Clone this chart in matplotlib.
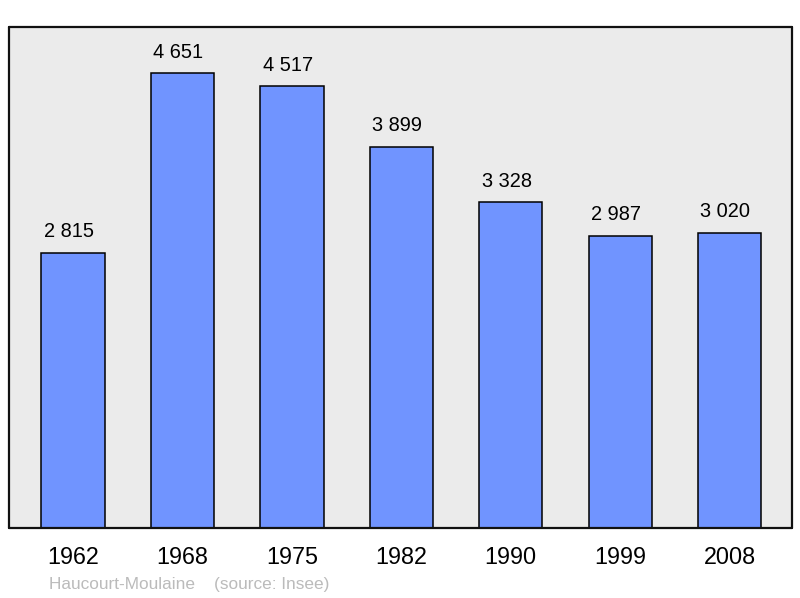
import matplotlib.pyplot as plt
import numpy as np

years = ["1962", "1968", "1975", "1982", "1990", "1999", "2008"]
population = [2815, 4651, 4517, 3899, 3328, 2987, 3020]
labels = ["2 815", "4 651", "4 517", "3 899", "3 328", "2 987", "3 020"]

plt.rcParams['font.family'] = ['Liberation Sans', 'DejaVu Sans']

fig = plt.figure(figsize=(8, 5.98), dpi=100)
ax = fig.add_axes([9 / 800, 1 - 528 / 598, 783 / 800, 501 / 598])
ax.set_facecolor("#ebebeb")

x = np.arange(len(years))
ax.bar(x, population, width=0.578, color="#7094ff", edgecolor="black", linewidth=1.1, zorder=2)

for xi, v, lab in zip(x, population, labels):
    ax.annotate(lab, (xi, v), xytext=(-3, 15), textcoords="offset points",
                ha="center", va="center", fontsize=14.4, color="black")

ax.set_xlim(-0.585, 6.57)
ax.set_ylim(0, 5122)
ax.set_yticks([])
ax.set_xticks(x)
ax.set_xticklabels(years, fontsize=16.8)
ax.tick_params(axis="x", length=0, pad=13)
for s in ax.spines.values():
    s.set_linewidth(1.6)
    s.set_color("#111111")
    s.set_capstyle("round")
    s.set_joinstyle("round")

fig.text(49 / 800, 1 - 584 / 598, "Haucourt-Moulaine    (source: Insee)",
         fontsize=12.4, color="#bbbbbb", ha="left", va="center")

fig.savefig("out.png", dpi=100)
